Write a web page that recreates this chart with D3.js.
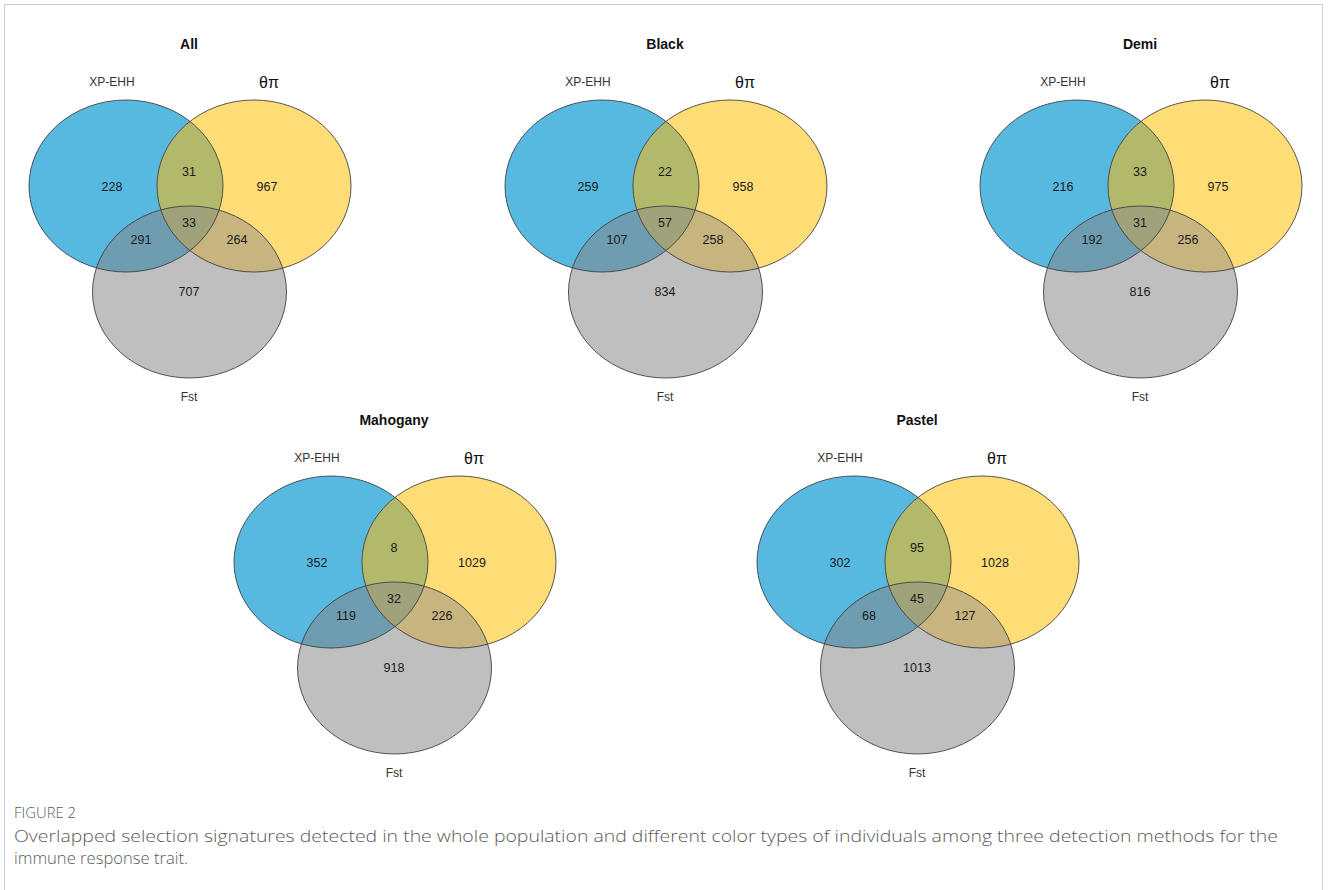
<!DOCTYPE html>
<html>
<head>
<meta charset="utf-8">
<script src="https://cdn.jsdelivr.net/npm/d3@7"></script>
<style>
  body { margin: 0; background: #fff; }
  svg { display: block; }
</style>
</head>
<body>
<main></main>
<script>
// panels and their region counts
const panelTitles = ["All", "Black", "Demi", "Mahogany", "Pastel"];
const setNames = ["XP-EHH", "θπ", "Fst"];
// order: xpOnly, piOnly, fstOnly, xp&pi, xp&fst, pi&fst, all three
const regionKeys = ["a", "b", "c", "ab", "ac", "bc", "abc"];
const countsAll      = [228, 967, 707, 31, 291, 264, 33];
const countsBlack    = [259, 958, 834, 22, 107, 258, 57];
const countsDemi     = [216, 975, 816, 33, 192, 256, 31];
const countsMahogany = [352, 1029, 918, 8, 119, 226, 32];
const countsPastel   = [302, 1028, 1013, 95, 68, 127, 45];
const panelCounts = [countsAll, countsBlack, countsDemi, countsMahogany, countsPastel];

const W = 1328, H = 890;

// where each panel's title sits
const panelPos = [[189, 44], [665, 44], [1140, 44], [394, 420], [917, 420]];

// local venn layout (units relative to the title)
const circles = [
  {cx: -63, cy: 142, fill: "#57B9E0"},
  {cx: 65,  cy: 142, fill: "#FEDD77"},
  {cx: 0.5, cy: 248, fill: "#BFBFBF"}
];
const rx = 97, ry = 86;
const overlapFill = {ab: "#B3B96B", ac: "#6E9CB1", bc: "#C7B47F", abc: "#A0A27B"};
const regionPos = {
  a: [-77, 143], b: [78, 143], c: [0, 248],
  ab: [0, 128], ac: [-48, 196], bc: [48, 196], abc: [0, 179]
};
const labelPos = [[-77, 38], [80, 38], [0, 353]];

const svg = d3.select("main").append("svg")
  .attr("width", W).attr("height", H)
  .attr("font-family", "Liberation Sans, Arial, sans-serif");

// figure frame
svg.append("rect")
  .attr("x", 4.5).attr("y", 4.5)
  .attr("width", 1318).attr("height", 920)
  .attr("fill", "none").attr("stroke", "#d0d0d0");

const defs = svg.append("defs");

panelTitles.forEach((title, pi) => {
  const [ox, oy] = panelPos[pi];
  const x = d3.scaleLinear().domain([0, 1]).range([ox, ox + 1]);
  const y = d3.scaleLinear().domain([0, 1]).range([oy, oy + 1]);
  const counts = panelCounts[pi];

  const g = svg.append("g");

  // clip paths, one per set
  circles.forEach((c, i) => {
    defs.append("clipPath").attr("id", `clip-${pi}-${i}`)
      .append("ellipse")
      .attr("cx", x(c.cx)).attr("cy", y(c.cy))
      .attr("rx", rx).attr("ry", ry);
  });

  const ell = (sel, c) => sel.append("ellipse")
    .attr("cx", x(c.cx)).attr("cy", y(c.cy))
    .attr("rx", rx).attr("ry", ry);

  // base fills
  circles.forEach(c => ell(g, c).attr("fill", c.fill));

  // pairwise overlaps
  [[0, 1, "ab"], [0, 2, "ac"], [1, 2, "bc"]].forEach(([i, j, k]) => {
    ell(g.append("g").attr("clip-path", `url(#clip-${pi}-${i})`), circles[j])
      .attr("fill", overlapFill[k]);
  });
  // triple overlap
  ell(g.append("g").attr("clip-path", `url(#clip-${pi}-0)`)
        .append("g").attr("clip-path", `url(#clip-${pi}-1)`), circles[2])
    .attr("fill", overlapFill.abc);

  // outlines
  circles.forEach(c => ell(g, c)
    .attr("fill", "none").attr("stroke", "#3a3a3a")
    .attr("stroke-opacity", 0.85).attr("stroke-width", 1));

  // region counts
  g.selectAll("text.count")
    .data(regionKeys.map((k, i) => ({k, v: counts[i]})))
    .join("text")
      .attr("class", "count")
      .attr("x", d => x(regionPos[d.k][0]))
      .attr("y", d => y(regionPos[d.k][1]))
      .attr("dy", "0.35em")
      .attr("text-anchor", "middle")
      .attr("font-size", 12.5)
      .attr("fill", "#1a1a1a")
      .text(d => d.v);

  // set labels
  g.selectAll("text.set")
    .data(setNames)
    .join("text")
      .attr("class", "set")
      .attr("x", (d, i) => x(labelPos[i][0]))
      .attr("y", (d, i) => y(labelPos[i][1]))
      .attr("dy", "0.35em")
      .attr("text-anchor", "middle")
      .attr("font-size", (d, i) => i === 1 ? 16 : 12)
      .attr("fill", (d, i) => i === 1 ? "#111" : "#333")
      .text(d => d);

  // title
  g.append("text")
    .attr("x", x(0)).attr("y", y(0))
    .attr("dy", "0.35em")
    .attr("text-anchor", "middle")
    .attr("font-size", 14)
    .attr("font-weight", "bold")
    .attr("fill", "#111")
    .text(title);
});

// caption
const cap = svg.append("g")
  .attr("font-family", "Open Sans, sans-serif")
  .attr("font-weight", 300)
  .attr("fill", "#5a5a5a");
cap.append("text")
  .attr("x", 14).attr("y", 818)
  .attr("font-size", 14)
  .attr("textLength", 62).attr("lengthAdjust", "spacingAndGlyphs")
  .text("FIGURE 2");
cap.append("text")
  .attr("x", 14).attr("y", 842)
  .attr("font-size", 17)
  .attr("textLength", 1264).attr("lengthAdjust", "spacingAndGlyphs")
  .text("Overlapped selection signatures detected in the whole population and different color types of individuals among three detection methods for the");
cap.append("text")
  .attr("x", 14).attr("y", 864)
  .attr("font-size", 17)
  .attr("textLength", 174).attr("lengthAdjust", "spacingAndGlyphs")
  .text("immune response trait.");
</script>
</body>
</html>
